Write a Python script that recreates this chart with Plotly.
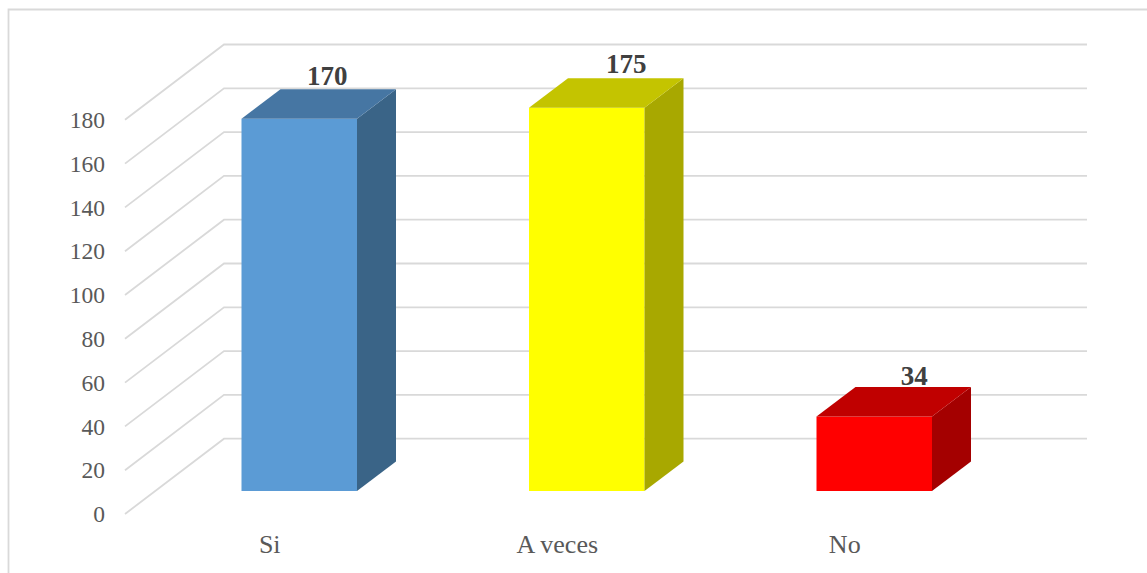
import plotly.graph_objects as go

categories = ["Si", "A veces", "No"]
values = [170, 175, 34]
tick_values = [0, 20, 40, 60, 80, 100, 120, 140, 160, 180]

front_colors = ["#5B9BD5", "#FFFF00", "#FF0000"]
top_colors = ["#4676A3", "#C4C400", "#C00000"]
side_colors = ["#3A6487", "#A8A800", "#A40000"]

# Pixel frame of the plotting area
W, H = 1147, 573
L, R, T, B = 106, 1100, 30, 526
PX_PER_CAT = 287.5
PX_PER_UNIT = 2.19
X0_PX = 299.25   # category 0 centre
Y0_PX = 514      # value 0 on the front edge

xr = [(L - X0_PX) / PX_PER_CAT, (R - X0_PX) / PX_PER_CAT]
yr = [(Y0_PX - B) / PX_PER_UNIT, (Y0_PX - T) / PX_PER_UNIT]

BAR_W = 115.5 / PX_PER_CAT
BAR_DX = 39 / PX_PER_CAT
BAR_DV = 29.5 / PX_PER_UNIT
FLOOR = 23 / PX_PER_UNIT
WALL_X0 = (125 - X0_PX) / PX_PER_CAT
WALL_X1 = (224 - X0_PX) / PX_PER_CAT
WALL_X2 = (1087 - X0_PX) / PX_PER_CAT
WALL_DV = 75.3 / PX_PER_UNIT
LABEL_DX = [28 / PX_PER_CAT, 39.5 / PX_PER_CAT, 40 / PX_PER_CAT]
LABEL_DV = [11 / PX_PER_UNIT, 12 / PX_PER_UNIT, 9 / PX_PER_UNIT]
CAT_LABEL_DX = -29.5 / PX_PER_CAT

positions = list(range(len(categories)))

fig = go.Figure()

# Front faces
fig.add_trace(go.Bar(
    x=positions, y=values, base=[FLOOR] * len(values), width=BAR_W,
    marker=dict(color=front_colors, line=dict(width=0)),
    hoverinfo="skip", showlegend=False,
))

# Side and top faces
for p, v, tc, sc in zip(positions, values, top_colors, side_colors):
    x1 = p - BAR_W / 2
    x2 = p + BAR_W / 2
    y1 = FLOOR
    y2 = FLOOR + v
    fig.add_trace(go.Scatter(
        x=[x2, x2 + BAR_DX, x2 + BAR_DX, x2, x2],
        y=[y1, y1 + BAR_DV, y2 + BAR_DV, y2, y1],
        mode="lines", fill="toself", fillcolor=sc, line=dict(width=0),
        hoverinfo="skip", showlegend=False,
    ))
    fig.add_trace(go.Scatter(
        x=[x1, x2, x2 + BAR_DX, x1 + BAR_DX, x1],
        y=[y2, y2, y2 + BAR_DV, y2 + BAR_DV, y2],
        mode="lines", fill="toself", fillcolor=tc, line=dict(width=0),
        hoverinfo="skip", showlegend=False,
    ))

# Data labels
fig.add_trace(go.Scatter(
    x=[p + d for p, d in zip(positions, LABEL_DX)],
    y=[FLOOR + v + BAR_DV + d for v, d in zip(values, LABEL_DV)],
    mode="text", text=[str(v) for v in values], textposition="middle center",
    textfont=dict(family="Liberation Serif", size=27, color="#404040", weight="bold"),
    hoverinfo="skip", showlegend=False, cliponaxis=False,
))

# Walls: gridlines behind the bars
shapes = []
for t in tick_values:
    shapes.append(dict(
        type="path", xref="x", yref="y", layer="below",
        path=f"M {WALL_X0} {t} L {WALL_X1} {t + WALL_DV} L {WALL_X2} {t + WALL_DV}",
        line=dict(color="#D9D9D9", width=1.8),
    ))

# Chart frame (right and bottom edges run past the picture)
frame_l, frame_r = 8.5, 1152
frame_t, frame_b = 9.5, 580
shapes.append(dict(
    type="rect", xref="paper", yref="paper", layer="below",
    x0=(frame_l - L) / (R - L), x1=(frame_r - L) / (R - L),
    y0=(B - frame_b) / (B - T), y1=(B - frame_t) / (B - T),
    line=dict(color="#D9D9D9", width=1.8), fillcolor="rgba(0,0,0,0)",
))

fig.update_layout(
    width=W, height=H,
    margin=dict(l=L, r=W - R, t=T, b=H - B, pad=0),
    paper_bgcolor="white", plot_bgcolor="rgba(0,0,0,0)",
    shapes=shapes, showlegend=False,
    font=dict(family="Liberation Serif", color="#595959"),
    xaxis=dict(
        range=xr, showgrid=False, zeroline=False, showline=False, ticks="",
        tickmode="array", tickvals=[p + CAT_LABEL_DX for p in positions],
        ticktext=categories, tickfont=dict(size=26, color="#595959"),
        fixedrange=True,
    ),
    yaxis=dict(
        range=yr, showgrid=False, zeroline=False, showline=False, ticks="",
        tickmode="array", tickvals=tick_values,
        ticktext=[str(t) for t in tick_values],
        tickfont=dict(size=23.5, color="#595959"),
        fixedrange=True,
    ),
)

fig.write_html(
    "out.html",
    config=dict(displayModeBar=False),
    post_script="document.body.style.margin='0';document.documentElement.style.overflow='hidden';",
)
